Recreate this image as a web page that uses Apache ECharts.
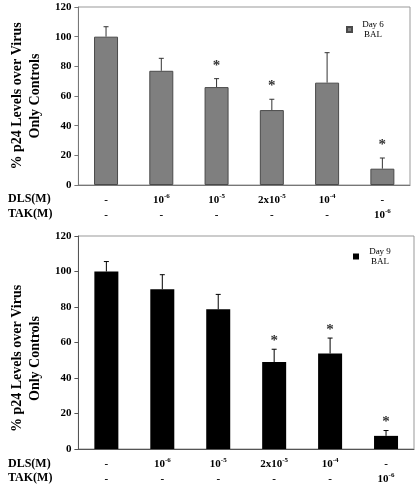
<!DOCTYPE html>
<html>
<head>
<meta charset="utf-8">
<script src="https://cdn.jsdelivr.net/npm/echarts@6/dist/echarts.min.js"></script>
<style>html,body{margin:0;padding:0;background:#fff}#c{width:417px;height:486px}</style>
</head>
<body>
<div id="c"></div>
<script>
var groups = ['1', '2', '3', '4', '5', '6'];
var dlsLabels = ['-', '10^-6', '10^-5', '2x10^-5', '10^-4', '-'];
var takLabels = ['-', '-', '-', '-', '-', '10^-6'];
var yTicks = [0, 20, 40, 60, 80, 100, 120];

var day6 = [100, 77, 66, 50.5, 69, 11];
var day6Err = [6.7, 8.4, 5.7, 7.3, 20.2, 7.2];
var day6Sig = [0, 0, 1, 1, 0, 1];

var day9 = [100, 90, 78.7, 49, 53.8, 7.4];
var day9Err = [5.6, 8.2, 8.4, 7.2, 8.7, 3.0];
var day9Sig = [0, 0, 0, 1, 1, 1];

var serif = '"Liberation Serif", "Times New Roman", serif';

function fmtLabel(s) {
  var p = s.split('^');
  if (p.length === 1) return '{n|' + s + '}';
  return '{n|' + p[0] + '}{s|' + p[1] + '}';
}
function xFormatter(v, i) {
  return fmtLabel(dlsLabels[i]) + '\n' + fmtLabel(takLabels[i]);
}
var xRich = {
  n: { fontFamily: serif, fontSize: 11, fontWeight: 'bold', color: '#000', lineHeight: 15 },
  s: { fontFamily: serif, fontSize: 7, fontWeight: 'bold', color: '#000', lineHeight: 15, verticalAlign: 'top', padding: [0, 0, 6, 0] }
};

function errSeries(name, xi, yi, vals, errs, sig, color, starGap) {
  return {
    type: 'custom', xAxisIndex: xi, yAxisIndex: yi, z: 5, silent: true,
    data: vals.map(function (v, i) { return [i, v, v + errs[i], sig[i]]; }),
    renderItem: function (params, api) {
      var x = api.value(0);
      var p0 = api.coord([x, api.value(1)]);
      var p1 = api.coord([x, api.value(2)]);
      var children = [
        { type: 'line', shape: { x1: p0[0], y1: p0[1], x2: p1[0], y2: p1[1] }, style: { stroke: color, lineWidth: 1 } },
        { type: 'line', shape: { x1: p1[0] - 2.5, y1: p1[1], x2: p1[0] + 2.5, y2: p1[1] }, style: { stroke: color, lineWidth: 1 } }
      ];
      if (api.value(3)) {
        children.push({ type: 'text', style: { text: '*', x: p1[0], y: p1[1] - starGap, align: 'center', verticalAlign: 'middle', fontFamily: serif, fontSize: 15, fontWeight: 'bold', fill: '#333' } });
      }
      return { type: 'group', children: children };
    }
  };
}

function yAxisCfg(gi, lineColor, shift) {
  return {
    type: 'value', gridIndex: gi, min: 0, max: 120, interval: 20,
    name: '% p24 Levels over Virus\nOnly Controls',
    nameLocation: 'middle', nameRotate: 90, nameGap: 30,
    nameTextStyle: { fontFamily: serif, fontSize: 14, fontWeight: 'bold', color: '#000', lineHeight: 18,
      padding: [0, shift, 0, 0] },
    axisLine: { show: true, lineStyle: { color: lineColor, width: 1 } },
    axisTick: { show: true, length: 4, lineStyle: { color: lineColor } },
    axisLabel: { margin: 7, fontFamily: serif, fontSize: 11, fontWeight: 'bold', color: '#000',
      formatter: function (v) { return yTicks.indexOf(v) >= 0 ? String(v) : ''; } },
    splitLine: { show: false }
  };
}
function xAxisCfg(gi, lineColor) {
  return {
    type: 'category', gridIndex: gi, data: groups,
    axisLine: { show: true, lineStyle: { color: lineColor, width: 1 } },
    axisTick: { show: false },
    axisLabel: { margin: 8, formatter: xFormatter, rich: xRich, interval: 0 }
  };
}
function rowHeader(text, y) {
  return { type: 'text', left: 8, top: y - 7, style: { text: text, fontFamily: serif, fontSize: 12, fontWeight: 'bold', fill: '#000' } };
}
var legendRich = { a: { fontFamily: serif, fontSize: 9, color: '#000', width: 32, align: 'center', lineHeight: 10 } };

var chart = echarts.init(document.getElementById('c'), null, { renderer: 'canvas' });
chart.setOption({
  animation: false,
  grid: [
    { left: 66, top: 7, width: 344, height: 178, show: true, borderColor: '#999', borderWidth: 1 },
    { left: 67, top: 236, width: 347, height: 213, show: true, borderColor: '#999', borderWidth: 1 }
  ],
  xAxis: [xAxisCfg(0, '#777'), xAxisCfg(1, '#555')],
  yAxis: [yAxisCfg(0, '#777', 0), yAxisCfg(1, '#555', 32)],
  legend: [
    { data: ['Day 6 BAL'], left: 341, top: 15, orient: 'vertical', itemWidth: 5, itemHeight: 5, icon: 'rect',
      formatter: function () { return '{a|Day 6}\n{a|BAL}'; }, textStyle: { rich: legendRich } },
    { data: ['Day 9 BAL'], left: 348, top: 242, orient: 'vertical', itemWidth: 6, itemHeight: 6, icon: 'rect',
      formatter: function () { return '{a|Day 9}\n{a|BAL}'; }, textStyle: { rich: legendRich } }
  ],
  graphic: [
    rowHeader('DLS(M)', 200), rowHeader('TAK(M)', 215),
    rowHeader('DLS(M)', 465), rowHeader('TAK(M)', 479)
  ],
  series: [
    { name: 'Day 6 BAL', type: 'bar', xAxisIndex: 0, yAxisIndex: 0, data: day6, barWidth: 24,
      itemStyle: { color: '#7f7f7f', borderColor: '#4a4a4a', borderWidth: 1 } },
    errSeries('e6', 0, 0, day6, day6Err, day6Sig, '#333', 13),
    { name: 'Day 9 BAL', type: 'bar', xAxisIndex: 1, yAxisIndex: 1, data: day9, barWidth: 24,
      itemStyle: { color: '#000' } },
    errSeries('e9', 1, 1, day9, day9Err, day9Sig, '#000', 8)
  ]
});
</script>
</body>
</html>
